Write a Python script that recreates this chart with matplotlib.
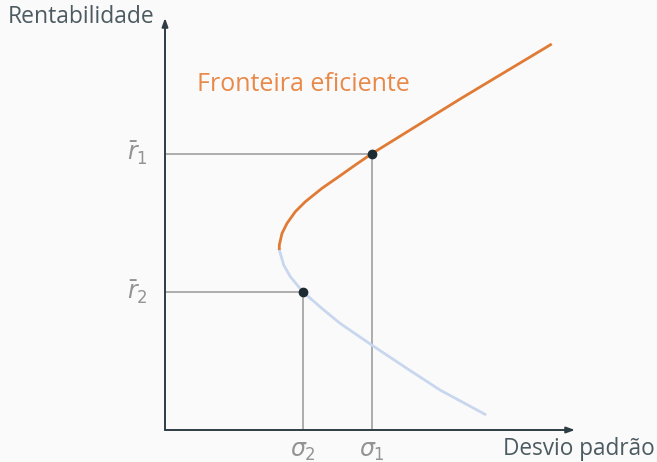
import numpy as np
import matplotlib
matplotlib.use("Agg")
import matplotlib.pyplot as plt

plt.rcParams['font.family'] = ['Open Sans', 'DejaVu Sans']
plt.rcParams['mathtext.fontset'] = 'dejavusans'

# efficient frontier (sigma, r)
upper_sigma = [2.788, 2.788, 2.854, 2.976, 3.178, 3.422, 3.829, 4.237, 4.641, 5.032, 7.237, 9.432]
upper_r = [4.369, 4.490, 4.774, 5.017, 5.299, 5.541, 5.867, 6.148, 6.432, 6.699, 8.058, 9.369]

lower_sigma = [2.788, 2.812, 2.895, 3.056, 3.359, 3.829, 4.268, 5.041, 5.895, 6.707, 7.805]
lower_r = [4.369, 4.289, 4.005, 3.721, 3.357, 2.949, 2.590, 2.063, 1.498, 0.971, 0.381]

point_sigma = [5.05, 3.37]
point_r = [6.70, 3.35]
r_labels = [r'$\bar{r}_1$', r'$\bar{r}_2$']
sigma_labels = [r'$\sigma_1$', r'$\sigma_2$']

bg = '#fafafa'
fig = plt.figure(figsize=(6.57, 4.62), dpi=100, facecolor=bg)
ax = fig.add_axes([165 / 657, 32 / 462, 410 / 657, 412 / 462])
ax.set_facecolor(bg)
ax.set_xlim(0, 10)
ax.set_ylim(0, 10)
for s in ax.spines.values():
    s.set_visible(False)
ax.set_xticks([])
ax.set_yticks([])

axis_col = '#2e3d44'
arrow = dict(arrowstyle='-|>,head_length=0.5,head_width=0.18', color=axis_col, lw=1.4,
             shrinkA=0, shrinkB=0)
ax.annotate('', xy=(10, 0), xytext=(0, 0), annotation_clip=False, arrowprops=arrow)
ax.annotate('', xy=(0, 10), xytext=(0, 0), annotation_clip=False, arrowprops=arrow)

# guide lines
guide = '#a6a6a6'
for s, r in zip(point_sigma, point_r):
    ax.plot([0, s], [r, r], color=guide, lw=1.3, zorder=1)
    ax.plot([s, s], [0, r], color=guide, lw=1.3, zorder=1)

ax.plot(lower_sigma, lower_r, color='#c9d7ee', lw=2, solid_joinstyle='round', zorder=2)
ax.plot(upper_sigma, upper_r, color='#e07b35', lw=2, solid_joinstyle='round',
        solid_capstyle='butt', zorder=3)
ax.scatter(point_sigma, point_r, s=36, color='#1d2c33', zorder=4)

lab_col = '#939393'
for r, t in zip(point_r, r_labels):
    ax.text(-0.42, r, t, ha='right', va='center', fontsize=17, color=lab_col)
for s, t in zip(point_sigma, sigma_labels):
    ax.text(s, -0.5, t, ha='center', va='center', fontsize=17, color=lab_col)

txt_col = '#4c5b61'
fig.text(8 / 657, 1 - 17 / 462, 'Rentabilidade', ha='left', va='center', fontsize=16.5, color=txt_col)
fig.text(655 / 657, 1 - 449 / 462, 'Desvio padrão', ha='right', va='center', fontsize=16.3, color=txt_col)
fig.text(197 / 657, 1 - 85 / 462, 'Fronteira eficiente', ha='left', va='center', fontsize=18, color='#e8894a')

fig.savefig('out.png', dpi=100, facecolor=bg)
